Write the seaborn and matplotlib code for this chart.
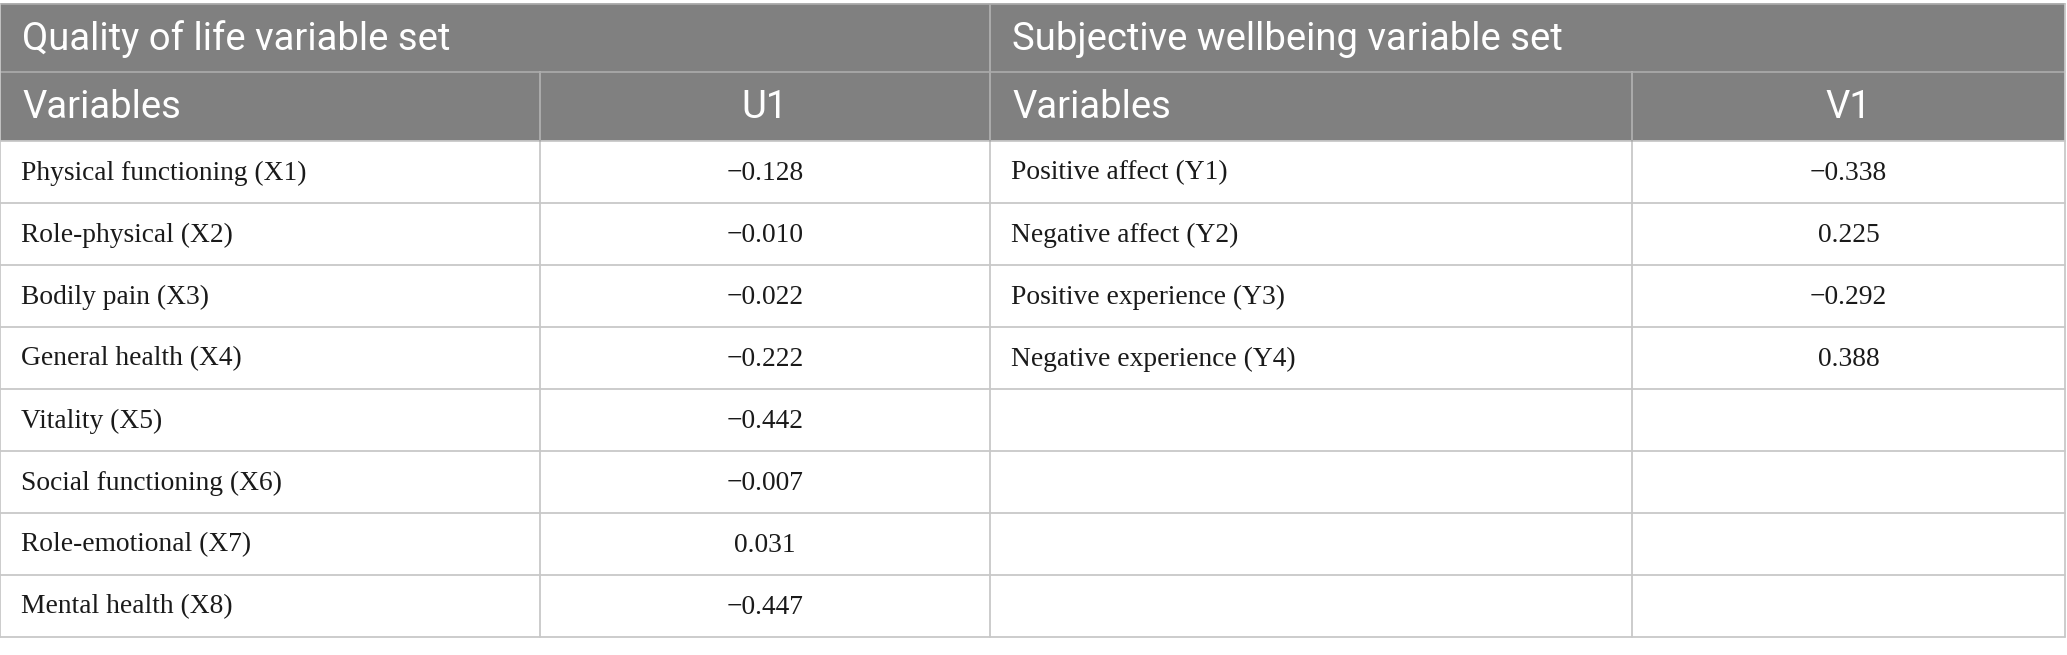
import matplotlib.pyplot as plt
import seaborn as sns
from matplotlib.patches import Rectangle

# Table content
group_titles = ['Quality of life variable set', 'Subjective wellbeing variable set']
column_heads = ['Variables', 'U1', 'Variables', 'V1']
qol_vars = ['Physical functioning (X1)', 'Role-physical (X2)', 'Bodily pain (X3)',
            'General health (X4)', 'Vitality (X5)', 'Social functioning (X6)',
            'Role-emotional (X7)', 'Mental health (X8)']
u1_values = [-0.128, -0.010, -0.022, -0.222, -0.442, -0.007, 0.031, -0.447]
swb_vars = ['Positive affect (Y1)', 'Negative affect (Y2)',
            'Positive experience (Y3)', 'Negative experience (Y4)']
v1_values = [-0.338, 0.225, -0.292, 0.388]

# Layout (pixels)
W, H = 2067, 655
col_edges = [0, 540, 990, 1632, 2065]
top, head1_bot, head2_bot, row_h = 4, 72, 141, 62
n_rows = len(qol_vars)
bottom = head2_bot + n_rows * row_h

header_gray = '#808080'
grid_gray = '#c8c8c8'
sep_gray = '#a8a8a8'

sns.set_theme(style='white')
plt.rcParams['font.family'] = ['Liberation Serif', 'DejaVu Serif']

fig = plt.figure(figsize=(W / 100, H / 100), dpi=100)
ax = fig.add_axes([0, 0, 1, 1])
ax.set_xlim(0, W)
ax.set_ylim(H, 0)
ax.axis('off')

# header background
ax.add_patch(Rectangle((col_edges[0], top), col_edges[-1] - col_edges[0], head2_bot - top,
                       facecolor=header_gray, edgecolor='none'))

def fmt(v):
    return f'{v:.3f}'.replace('-', '\u2212')

head_font = dict(family=['Roboto', 'DejaVu Sans'], color='white', fontsize=27.5)
body_font = dict(family=['Liberation Serif', 'DejaVu Serif'], color='#1a1a1a', fontsize=19.8)

# group titles
for i, title in enumerate(group_titles):
    x0 = col_edges[2 * i]
    ax.text(x0 + 22, (top + head1_bot) / 2 + 1, title, ha='left', va='center', **head_font)

# column heads
for j, head in enumerate(column_heads):
    xl, xr = col_edges[j], col_edges[j + 1]
    if j % 2 == 0:
        ax.text(xl + 22, (head1_bot + head2_bot) / 2 + 1, head, ha='left', va='center', **head_font)
    else:
        ax.text((xl + xr) / 2, (head1_bot + head2_bot) / 2 + 1, head, ha='center', va='center', **head_font)

# body rows
for k in range(n_rows):
    yc = head2_bot + (k + 0.5) * row_h + 1
    ax.text(col_edges[0] + 21, yc, qol_vars[k], ha='left', va='center', **body_font)
    ax.text((col_edges[1] + col_edges[2]) / 2, yc, fmt(u1_values[k]), ha='center', va='center', **body_font)
    if k < len(swb_vars):
        ax.text(col_edges[2] + 21, yc, swb_vars[k], ha='left', va='center', **body_font)
        ax.text((col_edges[3] + col_edges[4]) / 2, yc, fmt(v1_values[k]), ha='center', va='center', **body_font)

# grid lines
lw = 1.3
ax.plot([col_edges[0], col_edges[-1]], [top, top], color=sep_gray, lw=lw)
ax.plot([col_edges[0], col_edges[-1]], [head1_bot, head1_bot], color=sep_gray, lw=lw)
for k in range(n_rows + 1):
    y = head2_bot + k * row_h
    ax.plot([col_edges[0], col_edges[-1]], [y, y], color=grid_gray, lw=lw)
for j, x in enumerate(col_edges):
    if j in (0, 2, 4):
        ax.plot([x, x], [top, bottom], color=grid_gray, lw=lw)
    else:
        ax.plot([x, x], [head1_bot, bottom], color=grid_gray, lw=lw)
# header column separators on the gray band
for x in col_edges[1:-1]:
    y0 = top if x == col_edges[2] else head1_bot
    ax.plot([x, x], [y0, head2_bot], color=sep_gray, lw=lw)

fig.savefig('out.png', dpi=100, facecolor='white')
